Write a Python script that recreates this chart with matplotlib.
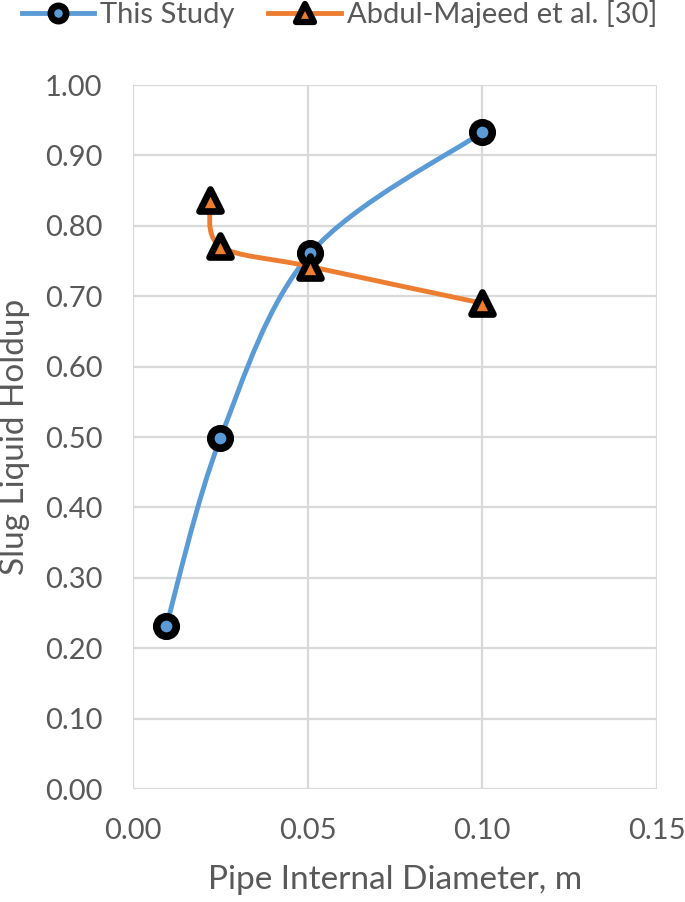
import numpy as np
import matplotlib
matplotlib.use("Agg")
import matplotlib.pyplot as plt
from matplotlib.path import Path
from matplotlib.patches import PathPatch
from matplotlib.lines import Line2D
from matplotlib.markers import MarkerStyle

# Data
study_x = [0.0095, 0.025, 0.0508, 0.100]
study_y = [0.231, 0.498, 0.761, 0.933]
abdul_x = [0.0221, 0.025, 0.0508, 0.100]
abdul_y = [0.836, 0.771, 0.742, 0.690]
x_ticks = [0.00, 0.05, 0.10, 0.15]
y_ticks = [0.0, 0.1, 0.2, 0.3, 0.4, 0.5, 0.6, 0.7, 0.8, 0.9, 1.0]
series_names = ["This Study", "Abdul-Majeed et al. [30]"]

BLUE = "#5B9BD5"
ORANGE = "#ED7D31"
GRAY = "#595959"
GRID = "#D9D9D9"

plt.rcParams['font.family'] = ['Lato', 'DejaVu Sans']

fig = plt.figure(figsize=(6.85, 9.02), dpi=100)
ax = fig.add_axes([133 / 685, 113 / 902, 524 / 685, 704 / 902])
ax.set_xlim(0, 0.15)
ax.set_ylim(0, 1.0)
ax.set_xticks(x_ticks)
ax.set_yticks(y_ticks)
ax.set_xticklabels([f"{v:.2f}" for v in x_ticks])
ax.set_yticklabels([f"{v:.2f}" for v in y_ticks])
ax.tick_params(axis='both', length=0, labelsize=21, labelcolor=GRAY)
ax.tick_params(axis='y', pad=22)
ax.tick_params(axis='x', pad=21)
ax.grid(True, color=GRID, linewidth=1.6)
ax.set_axisbelow(True)
for s in ax.spines.values():
    s.set_visible(False)
ax.set_xlabel("Pipe Internal Diameter, m", fontsize=24, color=GRAY)
ax.set_ylabel("Slug Liquid Holdup", fontsize=24, color=GRAY)
ax.xaxis.set_label_coords(0.5, -0.108)
ax.yaxis.set_label_coords(-0.197, 0.5)


def smooth_path(xs, ys):
    pts = ax.transData.transform(np.column_stack([xs, ys]))
    n = len(pts)
    verts = [pts[0]]
    codes = [Path.MOVETO]
    for i in range(n - 1):
        p0 = pts[i - 1] if i > 0 else pts[i]
        p1 = pts[i]
        p2 = pts[i + 1]
        p3 = pts[i + 2] if i + 2 < n else pts[i + 1]
        c1 = p1 + (p2 - p0) / 6.0
        c2 = p2 - (p3 - p1) / 6.0
        verts += [c1, c2, p2]
        codes += [Path.CURVE4] * 3
    verts = ax.transData.inverted().transform(np.array(verts))
    return Path(verts, codes)


for xs, ys, col in [(study_x, study_y, BLUE), (abdul_x, abdul_y, ORANGE)]:
    patch = PathPatch(smooth_path(xs, ys), facecolor='none', edgecolor=col,
                      linewidth=3.5, zorder=3, capstyle='round', joinstyle='round')
    ax.add_patch(patch)

circ = MarkerStyle('o', joinstyle='round')
tri = MarkerStyle('^', joinstyle='round')

ax.plot(study_x, study_y, linestyle='none', marker=circ, markersize=14,
        markerfacecolor=BLUE, markeredgecolor='black', markeredgewidth=5.5, zorder=5, clip_on=False)
ax.plot(abdul_x, abdul_y, linestyle='none', marker=tri, markersize=15.5,
        markerfacecolor=ORANGE, markeredgecolor='black', markeredgewidth=4.8, zorder=6, clip_on=False)

handles = [
    Line2D([], [], color=BLUE, linewidth=3.5, marker=circ, markersize=11,
           markerfacecolor=BLUE, markeredgecolor='black', markeredgewidth=4.8),
    Line2D([], [], color=ORANGE, linewidth=3.5, marker=tri, markersize=13,
           markerfacecolor=ORANGE, markeredgecolor='black', markeredgewidth=4.5),
]
leg = fig.legend(handles, series_names, loc='center', bbox_to_anchor=(0.4956, 1 - 14 / 902),
                 ncol=2, frameon=False, fontsize=21, handlelength=2.5, handletextpad=0.2,
                 columnspacing=1.15, labelcolor=GRAY, borderpad=0, borderaxespad=0)

fig.savefig("out.png", dpi=100)
